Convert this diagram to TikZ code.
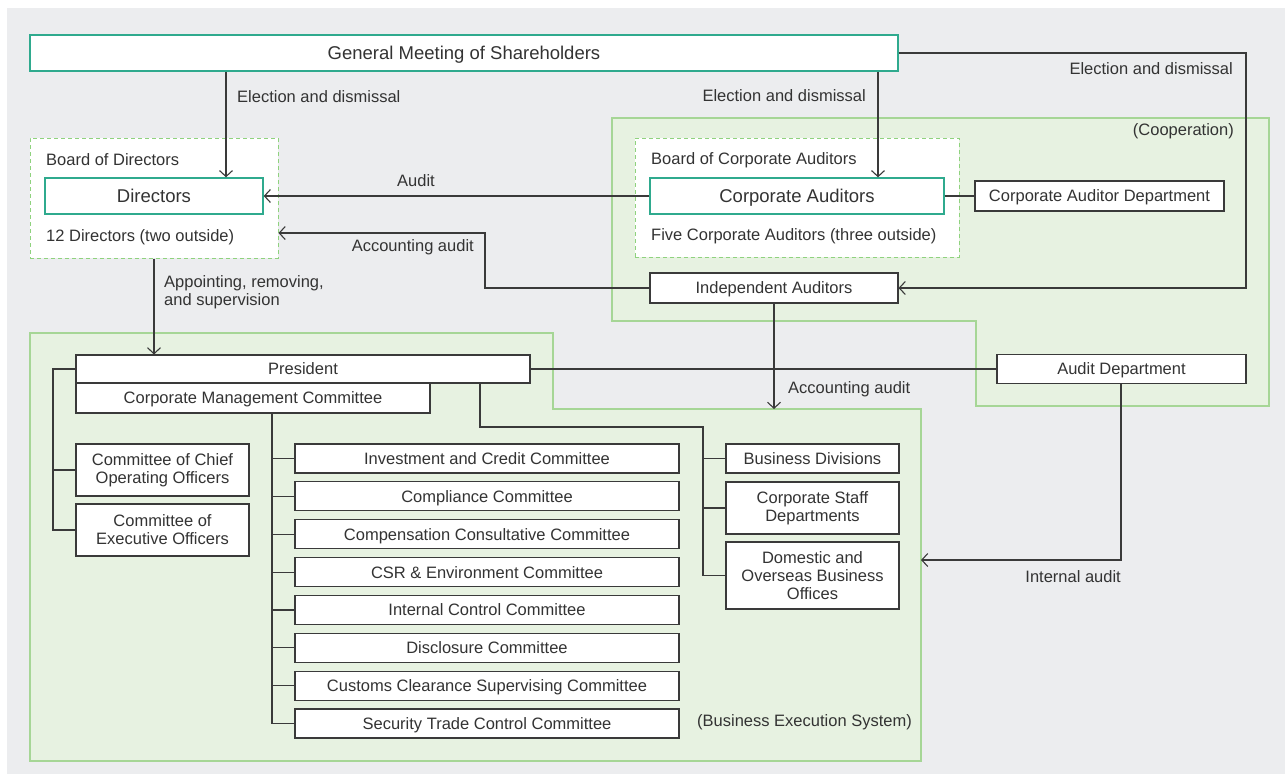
\documentclass[tikz,border=0pt]{standalone}
\usepackage{fontspec}
\setmainfont{Liberation Sans}
\usetikzlibrary{arrows.meta,calc}
\definecolor{bggray}{HTML}{ECEDEF}
\definecolor{grfill}{HTML}{E7F2E1}
\definecolor{grline}{HTML}{A6D696}
\definecolor{grdash}{HTML}{8FD27E}
\definecolor{teal}{HTML}{2FAA8E}
\definecolor{linec}{HTML}{3A3A3A}
\definecolor{textc}{HTML}{333333}
\tikzset{
  box/.style={draw=linec, fill=white, line width=1.1pt, inner sep=0pt, align=center, text=textc},
  oneline/.style={text height=11.8pt, text depth=0pt},
  tealbox/.style={draw=teal, fill=white, line width=1.4pt, inner sep=0pt, align=center, text=textc, font=\fontsize{18.5}{21}\selectfont, text height=13.2pt, text depth=0pt},
  dashbox/.style={draw=grdash, fill=white, dashed, dash pattern=on 4pt off 3pt, line width=1pt, inner sep=0pt},
  conn/.style={draw=linec, line width=1.2pt},
  arr/.style={conn, -{Straight Barb[length=6pt,width=13pt,line width=1.1pt]}},
  lbl/.style={text=textc, inner sep=0pt},
  cbox/.style={box, oneline, minimum width=384, minimum height=29},
  rbox/.style={box, minimum width=173}
}
\begin{document}
\begin{tikzpicture}[x=1pt,y=-1pt,font=\fontsize{16.5}{19}\selectfont]
\useasboundingbox (0,0) rectangle (1285,774);
\fill[white] (0,0) rectangle (1285,774);
\fill[bggray] (7,8) rectangle (1285,774);
% regions
\draw[fill=grfill, draw=grline, line width=1.2pt] (612,118) -- (1269,118) -- (1269,406) -- (976,406) -- (976,321) -- (612,321) -- cycle;
\draw[fill=grfill, draw=grline, line width=1.2pt] (30,333) -- (553,333) -- (553,409) -- (921,409) -- (921,761) -- (30,761) -- cycle;
% dashed boards
\node[dashbox, minimum width=248, minimum height=120] (bod) at (154,198) {};
\node[dashbox, minimum width=324, minimum height=119] (boca) at (797,197.5) {};
% nodes
\node[tealbox, minimum width=868, minimum height=36] (gm) at (464,53) {General Meeting of Shareholders};
\node[tealbox, minimum width=218, minimum height=36] (dir) at (154,196) {Directors};
\node[tealbox, minimum width=294, minimum height=36] (ca) at (797,196) {Corporate Auditors};
\node[box, oneline, minimum width=249, minimum height=30] (cad) at (1099.5,196) {Corporate Auditor Department};
\node[box, oneline, minimum width=248, minimum height=30] (ia) at (774,288) {Independent Auditors};
\node[box, oneline, minimum width=454, minimum height=28] (pres) at (303,369) {President};
\node[box, oneline, minimum width=354, minimum height=30] (cmc) at (253,398) {Corporate Management Committee};
\node[box, oneline, minimum width=249, minimum height=29] (ad) at (1121.5,369) {Audit Department};
\node[rbox, minimum height=52] (coo) at (162.5,470) {Committee of Chief\\[-1pt]Operating Officers};
\node[rbox, minimum height=52] (ceo) at (162.5,530) {Committee of\\[-1pt]Executive Officers};
\node[cbox] (c1) at (487,458.5) {Investment and Credit Committee};
\node[cbox] (c2) at (487,496.4) {Compliance Committee};
\node[cbox] (c3) at (487,534.2) {Compensation Consultative Committee};
\node[cbox] (c4) at (487,572.1) {CSR \& Environment Committee};
\node[cbox] (c5) at (487,609.9) {Internal Control Committee};
\node[cbox] (c6) at (487,647.8) {Disclosure Committee};
\node[cbox] (c7) at (487,685.6) {Customs Clearance Supervising Committee};
\node[cbox] (c8) at (487,723.5) {Security Trade Control Committee};
\node[rbox, oneline, minimum height=29] (bd) at (812.5,458.5) {Business Divisions};
\node[rbox, minimum height=52] (csd) at (812.5,508) {Corporate Staff\\[-1pt]Departments};
\node[rbox, minimum height=67] (dom) at (812.5,575.5) {Domestic and\\[-1pt]Overseas Business\\[-1pt]Offices};
% helper coordinates
\coordinate (xa) at (226,0);
\coordinate (xb) at (878,0);
\coordinate (xc) at (1246,0);
\coordinate (xd) at (485,233);
\coordinate (xe) at (774,409);
\coordinate (xf) at (1121,560);
\coordinate (xg) at (921,560);
\coordinate (xh) at (53,0);
\coordinate (xi) at (272,0);
\coordinate (xj) at (480,427);
\coordinate (xk) at (703,0);
% connectors
\draw[arr] (gm.south -| xa) -- (dir.north -| xa);
\draw[arr] (gm.south -| xb) -- (ca.north -| xb);
\draw[arr] (gm.east) -- (gm.east -| xc) -- (ia.east -| xc) -- (ia.east);
\draw[arr] (ca.west) -- (dir.east);
\draw[conn] (ca.east) -- (cad.west);
\draw[arr] (ia.west) -- (ia.west -| xd) -- (xd) -- (bod.east |- xd);
\draw[arr] (bod.south) -- (bod.south |- pres.north);
\draw[conn] (pres.east) -- (pres.east -| ad.west);
\draw[arr] (ia.south) -- (xe);
\draw[arr] (ad.south -| xf) -- (xf) -- (xg);
\draw[conn] (pres.west) -- (pres.west -| xh) -- (ceo.west -| xh) -- (ceo.west);
\draw[conn] (coo.west -| xh) -- (coo.west);
\draw[conn] (cmc.south -| xi) -- (c8.west -| xi) -- (c8.west);
\foreach \n in {c1,c2,c3,c4,c5,c6,c7} \draw[conn] (\n.west -| xi) -- (\n.west);
\draw[conn] (pres.south -| xj) -- (xj) -- (xj -| xk) -- (dom.west -| xk) -- (dom.west);
\draw[conn] (bd.west -| xk) -- (bd.west);
\draw[conn] (csd.west -| xk) -- (csd.west);
% labels
\node[lbl, anchor=west] (l1) at (237,97) {Election and dismissal};
\node[lbl, anchor=east] (l2) at (866,96) {Election and dismissal};
\node[lbl, anchor=east] (l3) at (1233,69) {Election and dismissal};
\node[lbl, anchor=east] (l4) at (1234,131) {(Cooperation)};
\node[lbl, anchor=west] (l5) at (46,160) {Board of Directors};
\node[lbl, anchor=west] (l6) at (46,237) {12 Directors (two outside)};
\node[lbl, anchor=west] (l7) at (651,160) {Board of Corporate Auditors};
\node[lbl, anchor=west] (l8) at (651,236) {Five Corporate Auditors (three outside)};
\node[lbl] (l9) at (416,181) {Audit};
\node[lbl, anchor=east] (l10) at (474,247) {Accounting audit};
\node[lbl, anchor=north west, align=left] (l11) at (164,275) {Appointing, removing,\\[-1pt]and supervision};
\node[lbl, anchor=west] (l12) at (788,389) {Accounting audit};
\node[lbl, anchor=east] (l13) at (1121,577) {Internal audit};
\node[lbl, anchor=east] (l14) at (912,722) {(Business Execution System)};
\end{tikzpicture}
\end{document}
